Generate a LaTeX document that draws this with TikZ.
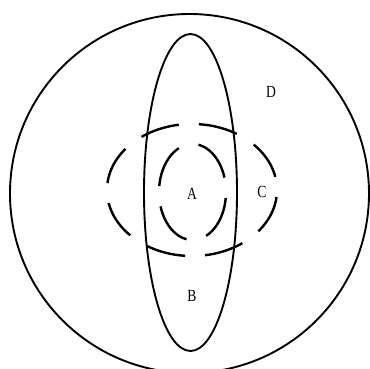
\documentclass[tikz,border=0pt]{standalone}
\usepackage{fontspec}
\setmainfont{Liberation Serif}
\begin{document}
\begin{tikzpicture}[x=1pt,y=-1pt,
  solidline/.style={line width=1.9pt},
  dashline/.style={line width=2.4pt, dash pattern=on 39.5pt off 20pt},
  lbl/.style={font=\fontsize{17}{17}\selectfont, xscale=0.8, inner sep=0pt}]
\useasboundingbox (0,0) rectangle (370,369);
\begin{scope}
\clip (0,0) rectangle (370,369);
\draw[solidline] (189.5,193.5) circle [x radius=179.5, y radius=179.5];
\end{scope}
\draw[solidline] (190.5,192.5) ellipse [x radius=46.5, y radius=158.5];
\draw[dashline, dash phase=52.5pt] (192,190) ellipse [x radius=85, y radius=66];
\draw[dashline, dash pattern=on 44pt off 20.5pt, dash phase=58.5pt] (192.5,192) ellipse [x radius=33.5, y radius=48];
\node[lbl] (A) at (192,194) {A};
\node[lbl] (B) at (192,296) {B};
\node[lbl] (C) at (262,192) {C};
\node[lbl] (D) at (271,92) {D};
\end{tikzpicture}
\end{document}
